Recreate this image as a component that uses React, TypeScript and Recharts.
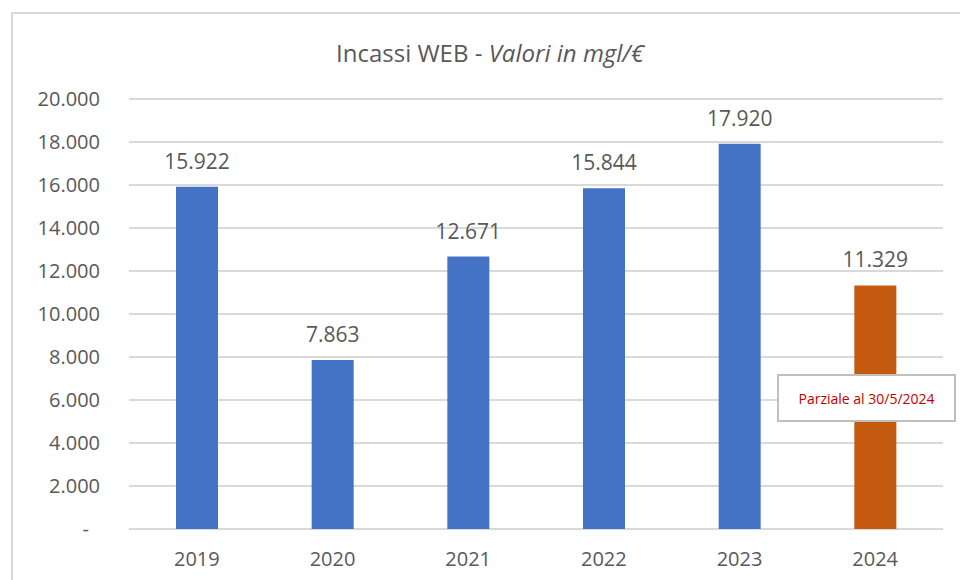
import React from 'react';
import { BarChart, Bar, XAxis, YAxis, CartesianGrid, LabelList, Cell, Text } from 'recharts';

const years = ['2019', '2020', '2021', '2022', '2023', '2024'];
const incassi = [15922, 7863, 12671, 15844, 17920, 11329];
const yTicks = [0, 2000, 4000, 6000, 8000, 10000, 12000, 14000, 16000, 18000, 20000];
const partialYear = '2024';
const partialNote = 'Parziale al 30/5/2024';

const data = years.map((year, i) => ({ year, value: incassi[i] }));

const fmt = (n: number) => String(n).replace(/\B(?=(\d{3})+(?!\d))/g, '.');

const textGray = '#595959';

const YTick = (props: any) => {
  const { x, y, payload } = props;
  const zero = payload.value === 0;
  return (
    <Text x={zero ? x - 11 : x} y={y} textAnchor="end" verticalAnchor="middle" fill={textGray} fontSize={20}>
      {zero ? '-' : fmt(payload.value)}
    </Text>
  );
};

export default function App() {
  return (
    <div style={{ position: 'absolute', left: 0, top: 0, width: 960, height: 580, overflow: 'hidden', background: '#fff', fontFamily: "'Open Sans', sans-serif" }}>
      {/* chart area border */}
      <div style={{ position: 'absolute', left: 11, top: 12, width: 980, height: 620, border: '2px solid #d9d9d9' }} />

      <div style={{ position: 'absolute', left: 0, top: 36, width: 980, textAlign: 'center', fontSize: 24, color: textGray }}>
        Incassi WEB - <i>Valori in mgl/€</i>
      </div>

      <div style={{ position: 'absolute', left: 0, top: 0 }}>
        <BarChart width={960} height={580} data={data} margin={{ top: 99, right: 17, bottom: 0, left: 0 }}>
          <CartesianGrid vertical={false} stroke="#d9d9d9" strokeWidth={2} />
          <XAxis
            dataKey="year"
            height={51}
            axisLine={false}
            tickLine={false}
            tickSize={0}
            tickMargin={23}
            tick={{ fill: textGray, fontSize: 20 }}
          />
          <YAxis
            width={129}
            domain={[0, 20000]}
            ticks={yTicks}
            interval={0}
            axisLine={false}
            tickLine={false}
            tickSize={0}
            tickMargin={29}
            tick={<YTick />}
          />
          <Bar dataKey="value" barSize={42} isAnimationActive={false}>
            {data.map((d) => (
              <Cell key={d.year} fill={d.year === partialYear ? '#c55a11' : '#4472c4'} />
            ))}
            <LabelList dataKey="value" position="top" offset={18} formatter={(v: any) => fmt(v)} fill={textGray} fontSize={21} />
          </Bar>
        </BarChart>
      </div>

      {/* note box over the partial year */}
      <div
        style={{
          position: 'absolute',
          left: 777,
          top: 374,
          width: 175,
          height: 44,
          background: '#fff',
          border: '2px solid #bfbfbf',
          display: 'flex',
          alignItems: 'center',
          justifyContent: 'center',
          color: '#c00000',
          fontSize: 14,
        }}
      >
        {partialNote}
      </div>
    </div>
  );
}
